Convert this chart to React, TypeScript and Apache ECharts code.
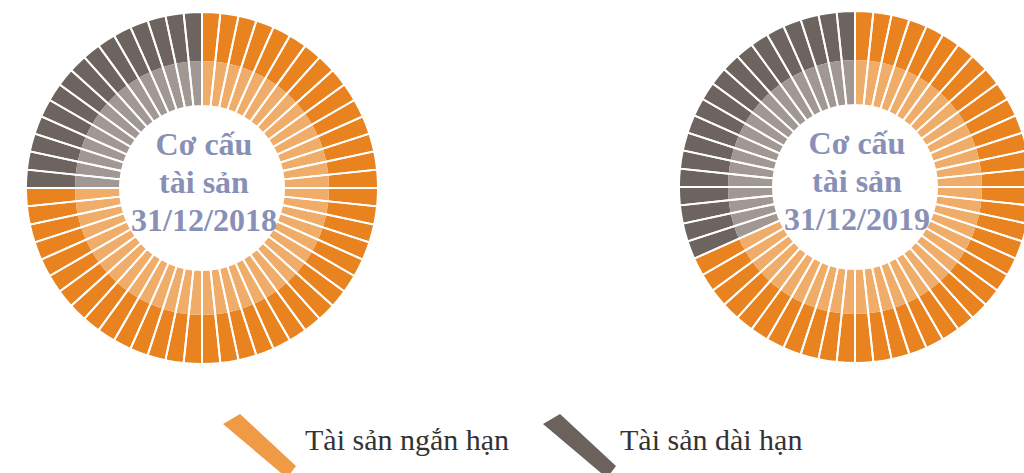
import React, { useEffect, useRef } from "react";
import * as echarts from "echarts";

// ---- data ----
const categories = ["Tài sản ngắn hạn", "Tài sản dài hạn"];
const dates = ["31/12/2018", "31/12/2019"];
const share2018 = [75, 25]; // % short-term, long-term
const share2019 = [68.3, 31.7];
const segmentCount = 60;
const centerTitle = "Cơ cấu\ntài sản";

// ---- styles ----
const outerColors = ["#E8831F", "#6D645F"];
const innerColors = ["#F0AD69", "#A19894"];
const legendColors = ["#EF9A45", "#6B625D"];
const textBlue = "#8990B7";

function segments(shares: number[], colors: string[]) {
  const nFirst = Math.round((shares[0] / 100) * segmentCount);
  const out: any[] = [];
  for (let i = 0; i < segmentCount; i++) {
    const k = i < nFirst ? 0 : 1;
    out.push({ name: categories[k], value: 1, itemStyle: { color: colors[k] } });
  }
  return out;
}

function ringSeries(center: number[], shares: number[]) {
  const base = {
    type: "pie",
    center,
    startAngle: 90,
    clockwise: true,
    silent: true,
    avoidLabelOverlap: false,
    label: { show: false },
    labelLine: { show: false },
    emphasis: { disabled: true },
  };
  const gaps = [];
  for (let i = 0; i < segmentCount; i++) gaps.push({ value: 1 });
  return [
    { ...base, radius: [127, 176], data: segments(shares, outerColors), itemStyle: { borderWidth: 0 } },
    { ...base, radius: [82, 127], data: segments(shares, innerColors), itemStyle: { borderWidth: 0 } },
    {
      ...base,
      radius: [82, 176],
      data: gaps,
      itemStyle: { color: "rgba(0,0,0,0)", borderColor: "#ffffff", borderWidth: 1.9 },
    },
  ];
}

export default function App() {
  const ref = useRef<HTMLDivElement>(null);
  useEffect(() => {
    if (!ref.current) return;
    const chart = echarts.init(ref.current, null, { renderer: "svg" });
    const centers = [
      [202, 188],
      [855, 187],
    ];
    const shares = [share2018, share2019];
    const series: any[] = [];
    centers.forEach((c, i) => series.push(...ringSeries(c, shares[i])));

    const graphic: any[] = [];
    centers.forEach((c, i) => {
      graphic.push({
        type: "text",
        silent: true,
        style: {
          x: c[0] + 2,
          y: c[1] - 6,
          text: centerTitle + "\n" + dates[i],
          fill: textBlue,
          fontFamily: "Liberation Serif",
          fontWeight: "bold",
          fontSize: 32,
          lineHeight: 38,
          textAlign: "center",
          textVerticalAlign: "middle",
          verticalAlign: "middle",
        },
        z: 10,
      });
    });
    const legendX = [223, 543];
    const textX = [305, 620];
    legendX.forEach((x, i) => {
      graphic.push({
        type: "polygon",
        silent: true,
        shape: {
          points: [
            [x, 424],
            [x + 17, 414],
            [x + 73, 466],
            [x + 64, 478],
          ],
        },
        style: { fill: legendColors[i] },
      });
      graphic.push({
        type: "text",
        silent: true,
        style: {
          x: textX[i],
          y: 439,
          text: categories[i],
          fill: "#333333",
          fontFamily: "Liberation Serif",
          fontSize: 30,
          textAlign: "left",
          textVerticalAlign: "middle",
          verticalAlign: "middle",
        },
      });
    });

    chart.setOption({
      animation: false,
      backgroundColor: "#ffffff",
      series,
      graphic,
    });
    return () => chart.dispose();
  }, []);
  return (
    <div
      ref={ref}
      style={{ position: "fixed", left: 0, top: 0, width: 1024, height: 473 }}
    />
  );
}
